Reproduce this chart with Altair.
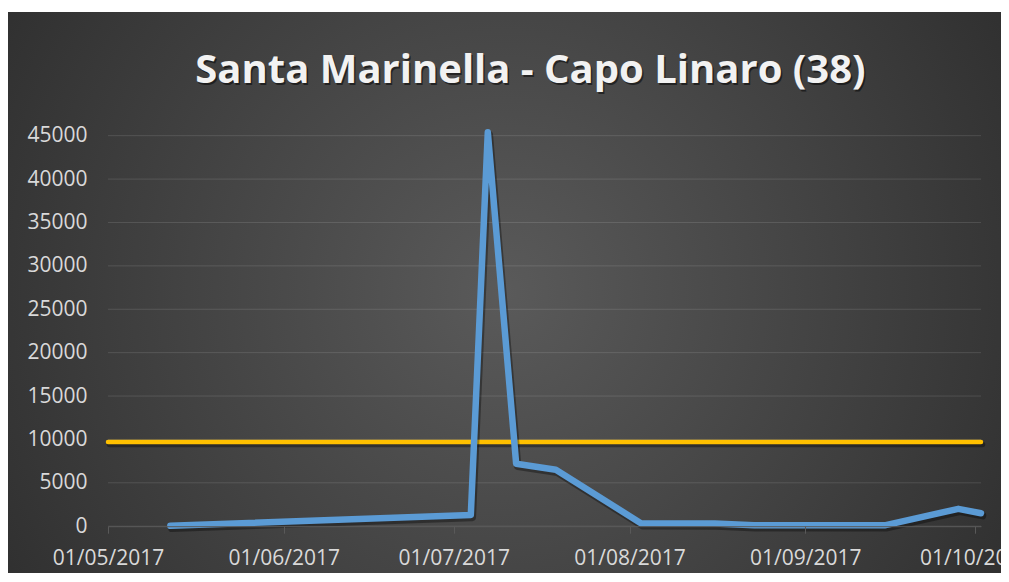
import altair as alt
import pandas as pd

TITLE = "Santa Marinella - Capo Linaro (38)"

# blue series (sample dates and values)
sample_dates = ["2017-05-12", "2017-07-04", "2017-07-07", "2017-07-12", "2017-07-19",
                "2017-08-03", "2017-08-16", "2017-08-23", "2017-09-15", "2017-09-28", "2017-10-02"]
sample_values = [50, 1300, 45400, 7200, 6500, 350, 300, 100, 100, 2000, 1500]

# yellow threshold line
threshold_dates = ["2017-05-01", "2017-10-02"]
threshold_values = [9700, 9700]

# axis ticks
y_ticks = [0, 5000, 10000, 15000, 20000, 25000, 30000, 35000, 40000, 45000]
x_tick_months = [(2017, 5), (2017, 6), (2017, 7), (2017, 8), (2017, 9), (2017, 10)]

W, H = 873, 390.5
PAD = {"left": 100, "top": 127.7, "right": 20, "bottom": 46.8}

series = pd.DataFrame({"date": [d + "T00:00:00" for d in sample_dates], "value": sample_values})
thresh = pd.DataFrame({"date": [d + "T00:00:00" for d in threshold_dates], "value": threshold_values})
grid = pd.DataFrame({"value": y_ticks})

x_scale = alt.Scale(domain=[alt.DateTime(year=2017, month=5, date=1),
                            alt.DateTime(year=2017, month=10, date=2)], nice=False)
y_scale = alt.Scale(domain=[0, 45000], nice=False)

x_axis = alt.Axis(values=[alt.DateTime(year=y, month=m, date=1) for y, m in x_tick_months],
                  format="%d/%m/%Y", title=None, grid=False, domain=True,
                  domainColor="#595959", domainWidth=1, ticks=True, tickSize=7,
                  tickColor="#595959", labelFlush=False, labelOverlap=False,
                  labelPadding=14, labelFontSize=21, labelColor="#D9D9D9",
                  labelFont="Open Sans", zindex=1)
y_axis = alt.Axis(values=y_ticks, format="d", title=None, grid=False, domain=False, ticks=False,
                  labelPadding=21, labelFontSize=21, labelColor="#D9D9D9",
                  labelFont="Open Sans", zindex=1)

one = pd.DataFrame({"t": [TITLE]})

bg = alt.Chart(one).mark_rect(
    fill={"gradient": "radial", "x1": 0.5, "y1": 0.5, "r1": 0, "x2": 0.5, "y2": 0.5, "r2": 0.72,
          "stops": [{"offset": 0, "color": "#5A5A5A"}, {"offset": 1, "color": "#262626"}]},
    clip=False
).encode(
    x=alt.value(-PAD["left"]), x2=alt.value(W + PAD["right"]),
    y=alt.value(-(PAD["top"] - 4)), y2=alt.value(H + PAD["bottom"])
)

grid_rules = alt.Chart(grid).mark_rule(color="#FFFFFF", opacity=0.12, strokeWidth=1).encode(
    y=alt.Y("value:Q", scale=y_scale, axis=y_axis),
    x=alt.value(0), x2=alt.value(W)
)

def line_layer(df, color, width):
    shadow = alt.Chart(df).mark_line(color="#000000", opacity=0.35, strokeWidth=width + 1,
                                     xOffset=1.5, yOffset=2.5, strokeJoin="round",
                                     strokeCap="round", clip=False).encode(
        x=alt.X("date:T", scale=x_scale, axis=x_axis),
        y=alt.Y("value:Q", scale=y_scale, axis=y_axis))
    main = alt.Chart(df).mark_line(color=color, strokeWidth=width, strokeJoin="round",
                                   strokeCap="round", clip=False).encode(
        x=alt.X("date:T", scale=x_scale, axis=x_axis),
        y=alt.Y("value:Q", scale=y_scale, axis=y_axis))
    return shadow + main

yellow = line_layer(thresh, "#FFC000", 4.5)
blue = line_layer(series, "#5B9BD5", 6.5)

title_shadow = alt.Chart(one).mark_text(
    font="Open Sans", fontSize=40, fontWeight="bold", color="#000000", opacity=0.5,
    align="center", baseline="alphabetic", dx=1.5, dy=2
).encode(x=alt.value(422.5), y=alt.value(-52.4), text="t:N")
title = alt.Chart(one).mark_text(
    font="Open Sans", fontSize=40, fontWeight="bold", color="#F2F2F2",
    align="center", baseline="alphabetic"
).encode(x=alt.value(422.5), y=alt.value(-52.4), text="t:N")

chart = alt.layer(bg, grid_rules, yellow, blue, title_shadow, title).properties(
    width=W, height=H,
    autosize=alt.AutoSizeParams(type="none"),
    padding=PAD,
    background="#FFFFFF"
).configure_view(stroke=None)

chart.save("out.html", embed_options={"renderer": "svg", "actions": False})
